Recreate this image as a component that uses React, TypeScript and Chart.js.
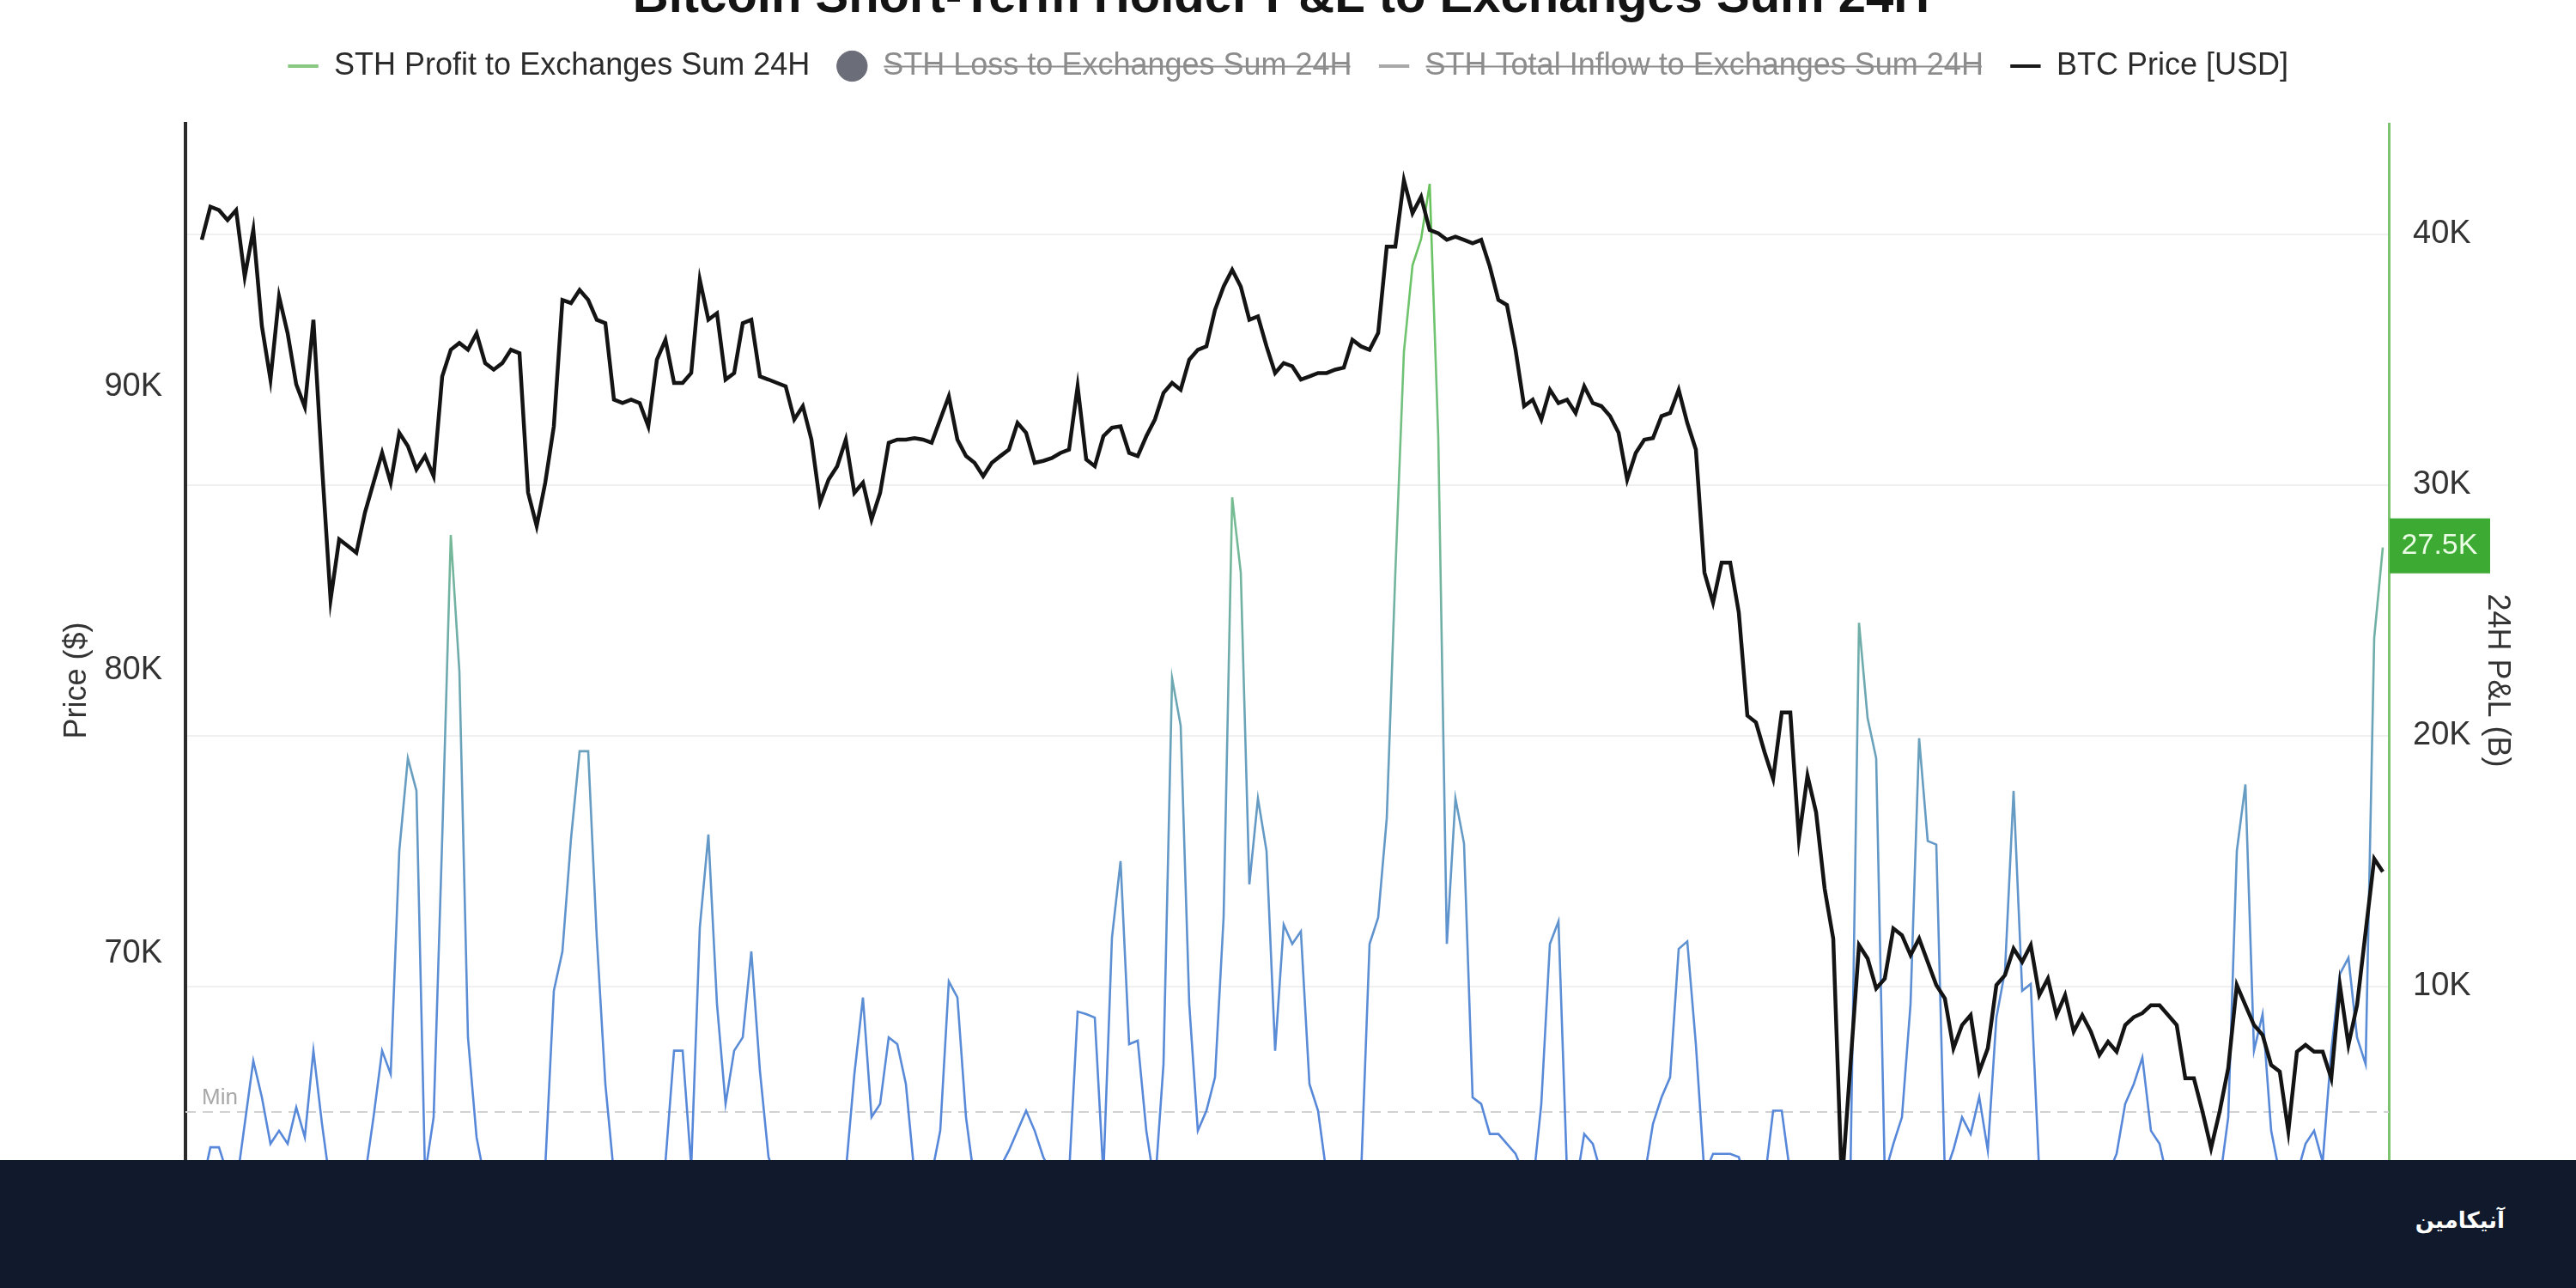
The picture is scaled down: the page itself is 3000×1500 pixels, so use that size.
import React, { useEffect, useRef } from "react";
import { Chart, registerables } from "chart.js";

Chart.register(...registerables);

const FONT = "'Liberation Sans', Arial, Helvetica, sans-serif";

const chartTitle = "Bitcoin Short-Term Holder P&L to Exchanges Sum 24H";
const seriesLabels = [
  "STH Profit to Exchanges Sum 24H",
  "STH Loss to Exchanges Sum 24H",
  "STH Total Inflow to Exchanges Sum 24H",
  "BTC Price [USD]",
];
const seriesHidden = [false, true, true, false];
const legendPointStyles = ["line", "circle", "line", "line"];
const legendColors = ["rgb(136,200,128)", "#6b6d79", "#a9a9a9", "#1a1a1a"];
const leftAxisTitle = "Price ($)";
const rightAxisTitle = "24H P&L (B)";
const priceTicksK = [60, 70, 80, 90];
const pnlTicksK = [0, 10, 20, 30, 40];
const minLineLabel = "Min";
const minLineLevelK = 5;
const footerBrand = "آنیکامین";

// BTC price, thousands of USD (evenly spaced samples)
const btcPriceK = [
  95.2, 96.37, 96.25, 95.9, 96.25, 93.9, 95.55, 92.15, 90.27, 93.2,
  91.9, 90.1, 89.3, 92.38, 87.22, 82.5, 84.63, 84.4, 84.16, 85.57,
  86.63, 87.68, 86.63, 88.39, 87.92, 87.1, 87.57, 86.86, 90.38, 91.32,
  91.56, 91.32, 91.9, 90.85, 90.62, 90.85, 91.32, 91.2, 86.28, 85.1,
  86.63, 88.62, 93.08, 92.97, 93.43, 93.08, 92.38, 92.26, 89.56, 89.44,
  89.56, 89.44, 88.62, 90.97, 91.67, 90.15, 90.15, 90.5, 93.79, 92.38,
  92.61, 90.27, 90.5, 92.26, 92.38, 90.38, 90.27, 90.15, 90.03, 88.86,
  89.33, 88.15, 85.93, 86.74, 87.21, 88.15, 86.27, 86.63, 85.33, 86.27,
  88.04, 88.15, 88.15, 88.2, 88.15, 88.04, 88.86, 89.68, 88.15, 87.57,
  87.33, 86.86, 87.33, 87.57, 87.8, 88.74, 88.39, 87.33, 87.4, 87.5,
  87.68, 87.8, 90.03, 87.45, 87.21, 88.27, 88.57, 88.62, 87.68, 87.57,
  88.27, 88.86, 89.8, 90.15, 89.91, 90.97, 91.32, 91.44, 92.73, 93.55,
  94.14, 93.55, 92.38, 92.5, 91.44, 90.5, 90.85, 90.74, 90.27, 90.38,
  90.5, 90.5, 90.62, 90.69, 91.67, 91.44, 91.32, 91.91, 94.96, 94.96,
  97.3, 96.14, 96.72, 95.55, 95.43, 95.2, 95.31, 95.2, 95.08, 95.2,
  94.26, 93.08, 92.9, 91.32, 89.33, 89.56, 88.86, 89.91, 89.44, 89.56,
  89.09, 90.03, 89.44, 89.33, 88.98, 88.39, 86.74, 87.68, 88.15, 88.2,
  88.98, 89.09, 89.91, 88.74, 87.8, 83.46, 82.4, 83.81, 83.81, 82.05,
  78.41, 78.17, 77.12, 76.18, 78.52, 78.52, 74.07, 76.29, 75.0, 72.3,
  70.54, 61.86, 66.08, 70.31, 69.84, 68.78, 69.13, 70.9, 70.66, 69.96,
  70.54, 69.72, 68.9, 68.43, 66.67, 67.49, 67.84, 65.85, 66.67, 68.9,
  69.25, 70.19, 69.72, 70.31, 68.55, 69.13, 67.84, 68.55, 67.26, 67.84,
  67.26, 66.44, 66.9, 66.55, 67.49, 67.77, 67.91, 68.19, 68.19, 67.84,
  67.49, 65.61, 65.61, 64.44, 63.15, 64.44, 65.97, 68.9, 68.19, 67.49,
  67.14, 66.08, 65.85, 63.74, 66.55, 66.79, 66.55, 66.55, 65.61, 68.9,
  66.79, 68.19, 70.78, 73.36, 72.9,
];

// STH profit to exchanges, 24h sum, thousands (same sampling)
const sthProfitK = [
  2.0, 3.59, 3.59, 2.5, 2.0, 4.52, 7.04, 5.58, 3.73, 4.25,
  3.73, 5.18, 3.99, 7.44, 4.52, 2.0, 1.8, 2.2, 1.9, 2.4,
  4.79, 7.44, 6.51, 15.4, 19.1, 17.8, 2.5, 4.79, 15.9, 28.0,
  22.56, 7.97, 3.99, 2.2, 1.8, 2.0, 2.4, 1.9, 2.1, 2.5,
  2.8, 9.83, 11.4, 15.9, 19.38, 19.38, 11.95, 6.11, 2.5, 2.0,
  1.8, 1.5, 2.0, 2.5, 3.0, 7.44, 7.44, 2.8, 12.35, 16.06,
  9.3, 5.32, 7.44, 7.97, 11.4, 6.64, 3.2, 2.2, 1.8, 2.0,
  2.3, 1.9, 2.1, 2.4, 2.0, 2.6, 6.51, 9.56, 4.79, 5.32,
  7.97, 7.7, 6.11, 2.5, 2.0, 2.5, 4.25, 10.2, 9.56, 4.79,
  2.2, 1.9, 2.3, 2.8, 3.46, 4.25, 5.05, 4.25, 3.2, 2.5,
  2.0, 2.5, 9.0, 8.9, 8.76, 2.5, 11.95, 15.0, 7.7, 7.84,
  4.25, 2.0, 6.9, 22.3, 20.4, 9.3, 4.25, 5.05, 6.38, 12.75,
  29.5, 26.5, 14.07, 17.5, 15.4, 7.44, 12.47, 11.7, 12.2, 6.11,
  5.05, 2.5, 2.0, 2.2, 1.9, 2.4, 11.7, 12.75, 16.7, 26.5,
  35.3, 38.75, 39.8, 42.0, 31.9, 11.7, 17.5, 15.7, 5.58, 5.32,
  4.12, 4.12, 3.73, 3.33, 2.5, 2.0, 5.32, 11.7, 12.6, 2.5,
  2.0, 4.12, 3.73, 2.5, 2.0, 1.8, 2.2, 2.0, 2.4, 4.52,
  5.58, 6.38, 11.5, 11.8, 7.7, 2.5, 3.33, 3.33, 3.33, 3.2,
  2.0, 1.8, 2.2, 5.05, 5.05, 2.5, 2.0, 1.8, 2.1, 1.9,
  2.3, 2.0, 2.5, 24.5, 20.7, 19.1, 2.5, 3.73, 4.79, 9.3,
  19.9, 15.8, 15.66, 2.5, 3.5, 4.79, 4.12, 5.6, 3.46, 8.76,
  10.62, 17.8, 9.83, 10.1, 2.5, 2.0, 1.8, 2.2, 1.9, 2.1,
  2.3, 2.0, 2.5, 3.33, 5.32, 6.11, 7.17, 4.25, 3.73, 2.2,
  1.9, 2.1, 2.0, 2.4, 1.8, 2.2, 4.79, 15.4, 18.06, 7.44,
  8.9, 4.25, 2.5, 2.0, 2.5, 3.73, 4.25, 3.0, 7.44, 10.5,
  11.15, 7.97, 6.9, 23.9, 27.5,
];

const kLabel = (v: number) => `${Math.round(v / 1000)}K`;

export default function App() {
  const ref = useRef<HTMLCanvasElement>(null);

  useEffect(() => {
    const canvas = ref.current;
    if (!canvas) return;

    const priceData = btcPriceK.map((v, i) => ({ x: i, y: v * 1000 }));
    const profitData = sthProfitK.map((v, i) => ({ x: i, y: v * 1000 }));
    const lastProfit = sthProfitK[sthProfitK.length - 1] * 1000;

    const profitGradient = (c: any) => {
      const chart = c.chart;
      const { chartArea, scales } = chart;
      if (!chartArea || !scales || !scales.y1) return "rgb(88,138,218)";
      const y1 = scales.y1;
      const g = chart.ctx.createLinearGradient(0, y1.getPixelForValue(0), 0, y1.getPixelForValue(44000));
      g.addColorStop(0, "rgb(84,132,220)");
      g.addColorStop(0.2, "rgb(90,140,214)");
      g.addColorStop(0.42, "rgb(104,158,192)");
      g.addColorStop(0.64, "rgb(118,186,150)");
      g.addColorStop(0.82, "rgb(112,196,112)");
      g.addColorStop(1, "rgb(100,192,84)");
      return g;
    };

    const legendSpacer = {
      id: "legendSpacer",
      beforeLayout(chart: any) {
        const lg = chart.legend;
        if (lg && !lg.__spaced) {
          const orig = lg.fit;
          lg.fit = function () {
            orig.call(this);
            this.height += 39;
          };
          lg.__spaced = true;
        }
      },
    };

    const minLinePlugin = {
      id: "minLine",
      beforeDatasetsDraw(chart: any) {
        const { ctx, chartArea, scales } = chart;
        const y = scales.y1.getPixelForValue(minLineLevelK * 1000);
        ctx.save();
        ctx.strokeStyle = "#d2d2d2";
        ctx.lineWidth = 2;
        ctx.setLineDash([12, 8]);
        ctx.beginPath();
        ctx.moveTo(chartArea.left, y);
        ctx.lineTo(chartArea.right, y);
        ctx.stroke();
        ctx.setLineDash([]);
        ctx.fillStyle = "#a8a8a8";
        ctx.font = `26px ${FONT}`;
        ctx.textAlign = "left";
        ctx.textBaseline = "alphabetic";
        ctx.fillText(minLineLabel, chartArea.left + 19, y - 9);
        ctx.restore();
      },
    };

    const lastValuePlugin = {
      id: "lastValue",
      afterDraw(chart: any) {
        const { ctx, chartArea, scales } = chart;
        const y = scales.y1.getPixelForValue(lastProfit);
        const x = chartArea.right + 1;
        ctx.save();
        ctx.fillStyle = "#3dab33";
        ctx.fillRect(x, y - 34, 117, 64);
        ctx.fillStyle = "#eafde4";
        ctx.font = `34px ${FONT}`;
        ctx.textAlign = "center";
        ctx.textBaseline = "middle";
        ctx.fillText(`${(lastProfit / 1000).toFixed(1)}K`, x + 58, y - 2);
        ctx.restore();
      },
    };

    const topTitlePlugin = {
      id: "topTitle",
      afterDraw(chart: any) {
        const { ctx } = chart;
        ctx.save();
        ctx.fillStyle = "#141414";
        ctx.font = `bold 58px ${FONT}`;
        ctx.textAlign = "center";
        ctx.textBaseline = "alphabetic";
        ctx.fillText(chartTitle, chart.width / 2 - 8, 14);
        ctx.restore();
      },
    };

    const tickFont = { family: FONT, size: 38 };
    const titleFont = { family: FONT, size: 36 };

    const chart = new Chart(canvas, {
      type: "line",
      data: {
        datasets: [
          {
            label: seriesLabels[0],
            data: profitData,
            yAxisID: "y1",
            borderColor: profitGradient,
            backgroundColor: legendColors[0],
            borderWidth: 2.6,
            pointRadius: 0,
            pointStyle: "line",
            tension: 0,
            order: 1,
            hidden: seriesHidden[0],
          },
          {
            label: seriesLabels[1],
            data: [],
            yAxisID: "y1",
            borderColor: legendColors[1],
            backgroundColor: legendColors[1],
            pointStyle: "circle",
            order: 2,
            hidden: seriesHidden[1],
          },
          {
            label: seriesLabels[2],
            data: [],
            yAxisID: "y1",
            borderColor: legendColors[2],
            backgroundColor: legendColors[2],
            pointStyle: "line",
            order: 3,
            hidden: seriesHidden[2],
          },
          {
            label: seriesLabels[3],
            data: priceData,
            yAxisID: "y",
            borderColor: "#141414",
            backgroundColor: legendColors[3],
            borderWidth: 4.5,
            pointRadius: 0,
            pointStyle: "line",
            tension: 0,
            order: 0,
            hidden: seriesHidden[3],
          },
        ],
      } as any,
      options: {
        animation: false,
        responsive: false,
        maintainAspectRatio: false,
        layout: { padding: { top: 28, bottom: 59, left: 0, right: 0 } },
        plugins: {
          title: { display: false },
          tooltip: { enabled: false },
          legend: {
            display: true,
            position: "top",
            align: "center",
            onClick: () => {},
            labels: {
              usePointStyle: true,
              boxWidth: 36,
              boxHeight: 25,
              padding: 31,
              font: { family: FONT, size: 36 },
              color: "#2b2b2b",
              generateLabels: (ch: any) =>
                seriesLabels.map((text, i) => {
                  const visible = ch.isDatasetVisible(i);
                  return {
                    text,
                    datasetIndex: i,
                    hidden: !visible,
                    fillStyle: legendColors[i],
                    strokeStyle: legendColors[i],
                    lineWidth: legendPointStyles[i] === "circle" ? 1 : 4,
                    pointStyle: legendPointStyles[i],
                    fontColor: visible ? "#2b2b2b" : "#8c8c8c",
                    lineCap: "butt",
                    lineDash: [],
                    lineDashOffset: 0,
                    lineJoin: "miter",
                    rotation: 0,
                    borderRadius: 0,
                  };
                }),
            },
          },
        },
        scales: {
          x: { type: "linear", display: false, min: -1.9, max: 254.7 },
          y: {
            position: "left",
            min: 60000,
            max: 99300,
            afterBuildTicks: (s: any) => {
              s.ticks = priceTicksK.map((v) => ({ value: v * 1000 }));
            },
            ticks: { callback: (v: any) => kLabel(Number(v)), font: tickFont, color: "#333", padding: 27 },
            grid: { display: false, drawTicks: false },
            border: { display: true, color: "#2a2a2a", width: 4 },
            title: { display: true, text: leftAxisTitle, font: titleFont, color: "#333", padding: { top: 68, bottom: 0 } },
            afterFit: (s: any) => {
              s.width = 216;
            },
          },
          y1: {
            position: "right",
            min: 0,
            max: 44400,
            afterBuildTicks: (s: any) => {
              s.ticks = pnlTicksK.map((v) => ({ value: v * 1000 }));
            },
            ticks: { callback: (v: any) => kLabel(Number(v)), font: tickFont, color: "#333", padding: 28 },
            grid: { color: "#f0f0f0", lineWidth: 2, drawTicks: false },
            border: { display: true, color: "#7cc46f", width: 3 },
            title: { display: true, text: rightAxisTitle, font: titleFont, color: "#333", padding: { top: 70, bottom: 0 } },
            afterFit: (s: any) => {
              s.width = 218;
            },
          },
        },
      } as any,
      plugins: [legendSpacer, minLinePlugin, lastValuePlugin, topTitlePlugin] as any,
    });

    return () => chart.destroy();
  }, []);

  return (
    <div style={{ position: "absolute", left: 0, top: 0, width: 3000, height: 1500, background: "#ffffff", overflow: "hidden" }}>
      <canvas ref={ref} width={3000} height={1500} style={{ position: "absolute", left: 0, top: 0, width: 3000, height: 1500 }} />
      <div style={{ position: "absolute", left: 0, top: 1351, width: 3000, height: 149, background: "#111a2c" }}>
        <span
          dir="rtl"
          style={{
            position: "absolute",
            right: 83,
            top: 52,
            color: "#ffffff",
            fontFamily: "'DejaVu Sans', 'Noto Sans', sans-serif",
            fontSize: 26,
            fontWeight: "bold",
            lineHeight: "36px",
          }}
        >
          {footerBrand}
        </span>
      </div>
    </div>
  );
}
